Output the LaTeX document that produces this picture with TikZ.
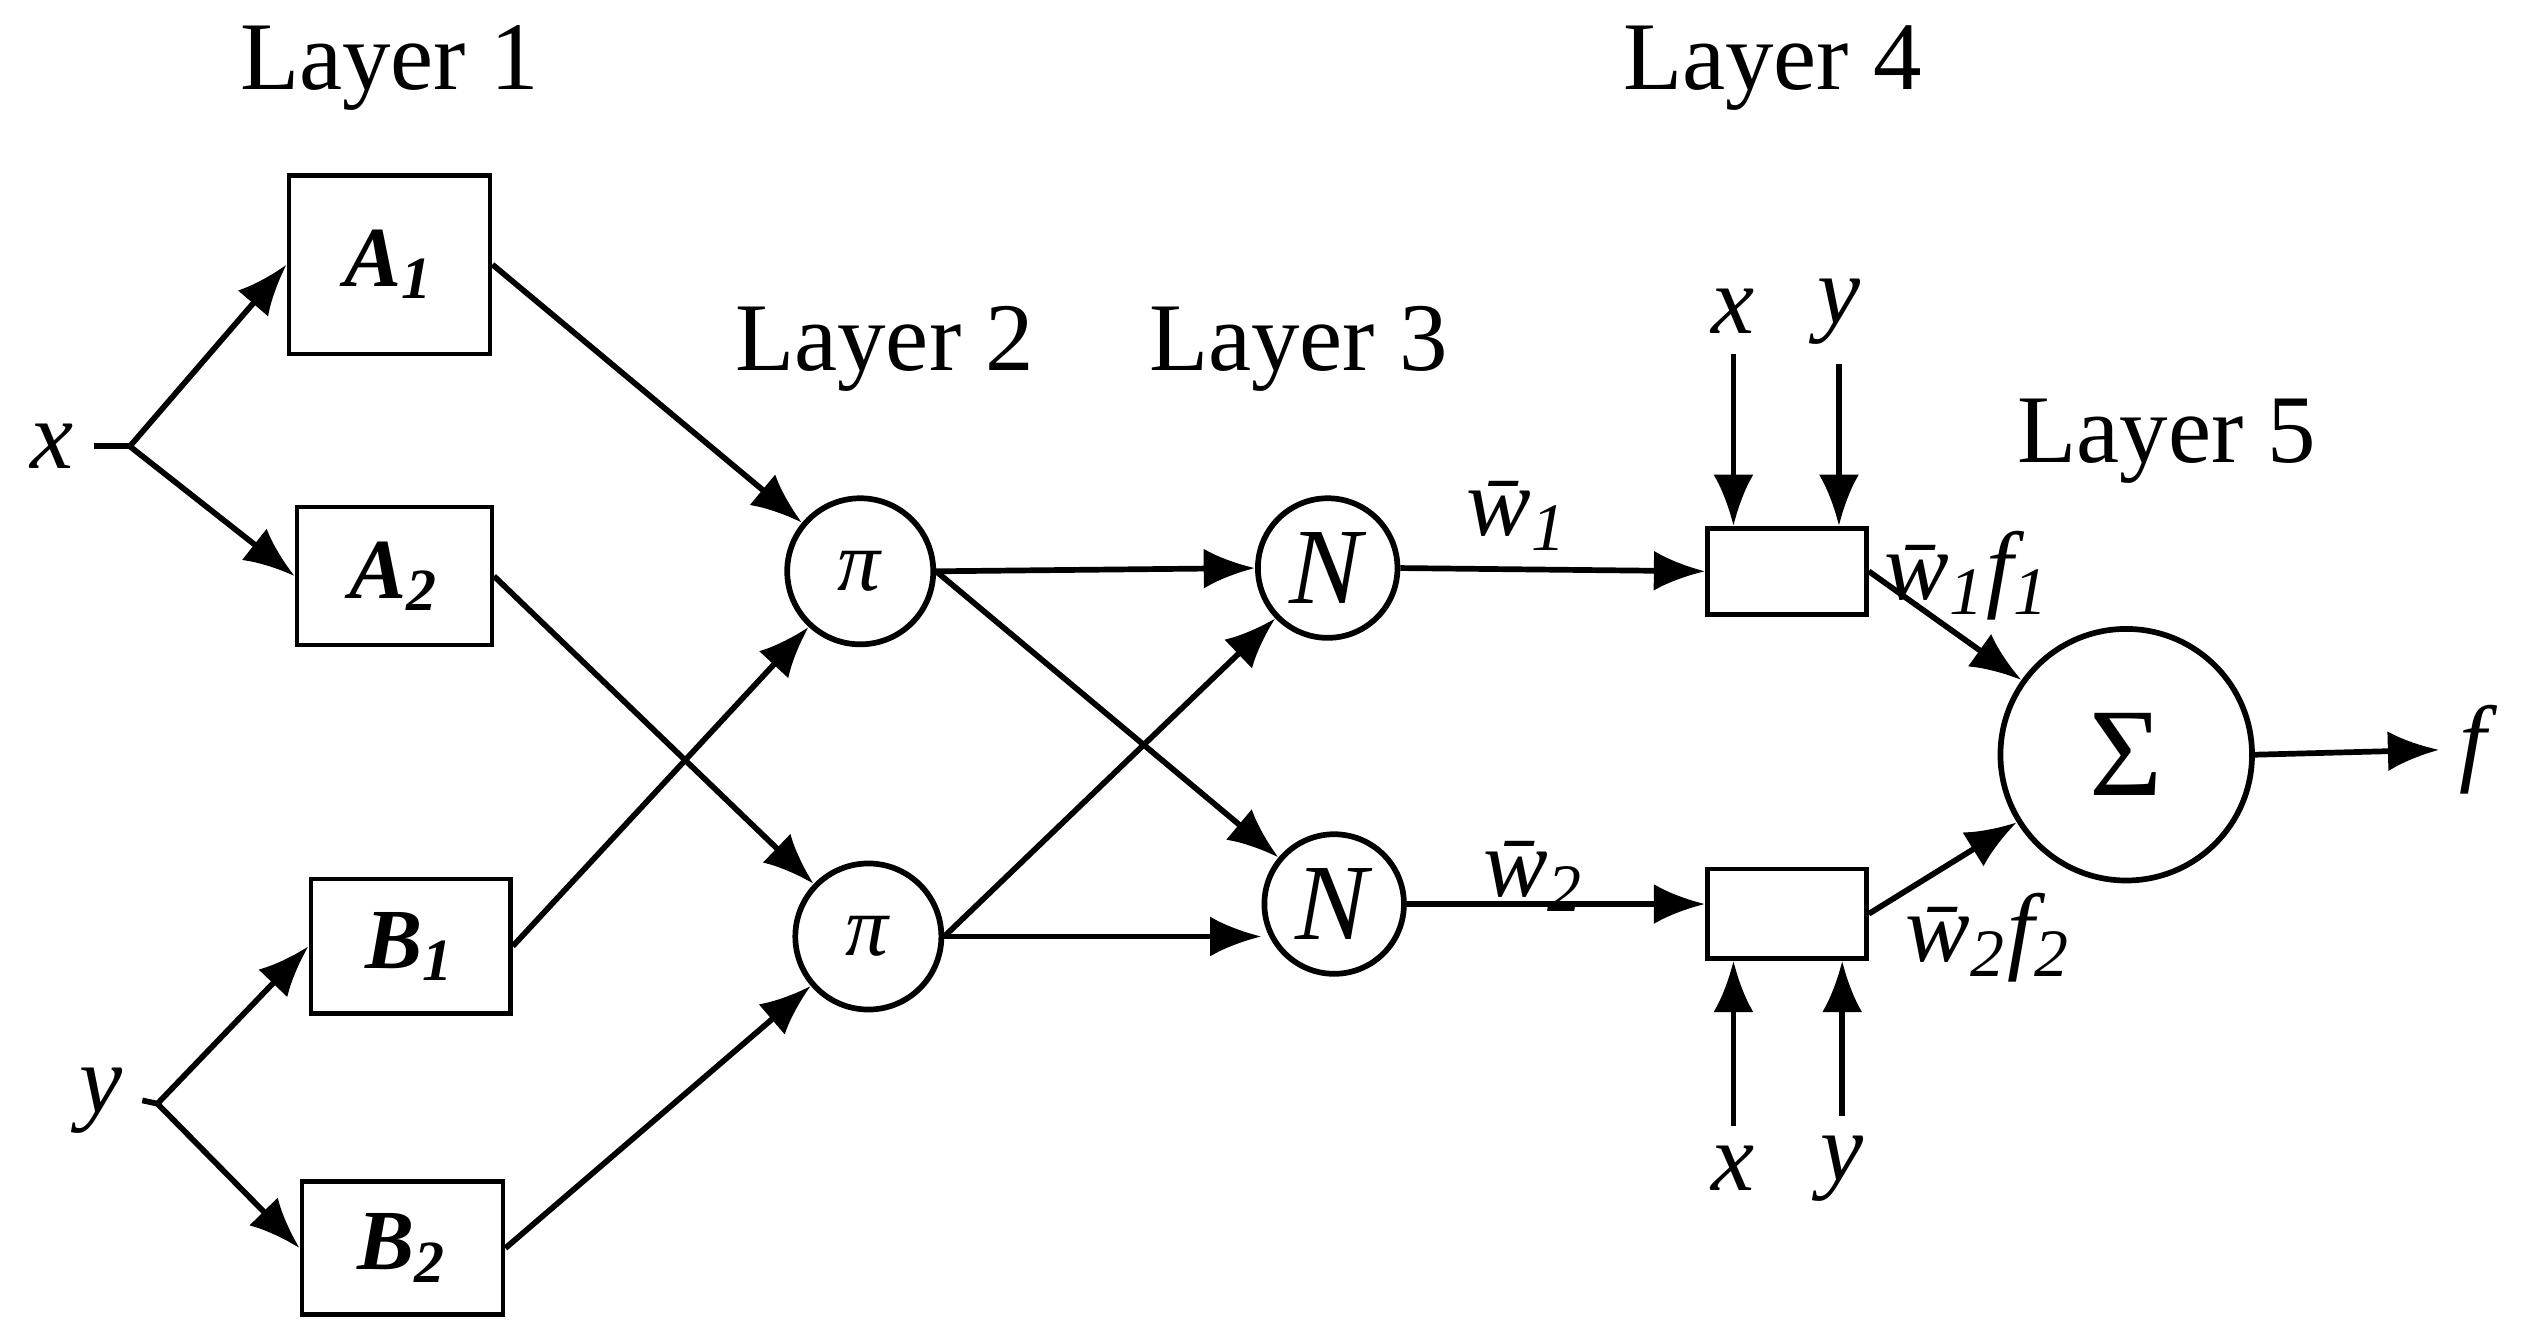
\documentclass[tikz,border=0pt]{standalone}
\usepackage{fontspec}
\setmainfont{Liberation Serif}
\usetikzlibrary{arrows.meta}
\begin{document}
\begin{tikzpicture}[x=0.1mm,y=-0.1mm,
  every node/.style={font=\fontsize{15}{18}\selectfont},
  box/.style={draw,line width=0.8pt,inner sep=0pt},
  circ/.style={draw,circle,line width=1pt,inner sep=0pt},
  lbl/.style={font=\fontsize{17}{20}\selectfont},
  arr/.style={line width=1pt,-{Latex[length=9pt,width=7pt]}},
  ln/.style={line width=1pt}]
\useasboundingbox (0,0) rectangle (1560,823);
\node[lbl] (L1) at (240,42) {Layer 1};
\node[lbl] (L2) at (545,215) {Layer 2};
\node[lbl] (L3) at (800,215) {Layer 3};
\node[lbl] (L4) at (1092,42) {Layer 4};
\node[lbl] (L5) at (1335,272) {Layer 5};
\node[box,minimum width=124\pgflinewidth,minimum width=12.4mm,minimum height=11mm] (A1) at (240,163) {\textbf{\textit{A}\textsubscript{\textit{1}}}};
\node[box,minimum width=12mm,minimum height=8.5mm] (A2) at (243,355) {\textbf{\textit{A}\textsubscript{\textit{2}}}};
\node[box,minimum width=12.3mm,minimum height=8.3mm] (B1) at (253,583) {\textbf{\textit{B}\textsubscript{\textit{1}}}};
\node[box,minimum width=12.4mm,minimum height=8.2mm] (B2) at (248,769) {\textbf{\textit{B}\textsubscript{\textit{2}}}};
\node[lbl] (x) at (32,275) {\textit{x}};
\node[lbl] (y) at (62,678) {\textit{y}};
\coordinate (bx) at (80,275);
\coordinate (by) at (97,680);
\node[circ,minimum size=9mm] (P1) at (530,352) {\textit{π}};
\node[circ,minimum size=9mm] (P2) at (535,577) {\textit{π}};
\node[circ,minimum size=8.6mm] (N1) at (818,350) {\fontsize{19}{20}\selectfont\textit{N}};
\node[circ,minimum size=8.6mm] (N2) at (822,557) {\fontsize{19}{20}\selectfont\textit{N}};
\node[box,minimum width=9.8mm,minimum height=5.3mm] (R1) at (1101,352) {};
\node[box,minimum width=9.8mm,minimum height=5.5mm] (R2) at (1101,563) {};
\node[circ,minimum size=15.5mm] (S) at (1310,465) {\fontsize{22}{24}\selectfont Σ};
\node[lbl] (f) at (1527,462) {\textit{f}};
\node[lbl] (x1) at (1068,192) {\textit{x}};
\node[lbl] (y1) at (1133,192) {\textit{y}};
\node[lbl] (x2) at (1068,720) {\textit{x}};
\node[lbl] (y2) at (1135,720) {\textit{y}};
\node[lbl] (w1) at (935,318) {\textit{\=w\textsubscript{1}}};
\node[lbl] (w2) at (945,540) {\textit{\=w\textsubscript{2}}};
\node[lbl] (w1f) at (1212,355) {\textit{\=w\textsubscript{1}f\textsubscript{1}}};
\node[lbl] (w2f) at (1225,578) {\textit{\=w\textsubscript{2}f\textsubscript{2}}};
\draw[ln] (x.east) -- (bx);
\draw[arr] (bx) -- (A1.west);
\draw[arr] (bx) -- (A2.west);
\draw[ln] (y.east) -- (by);
\draw[arr] (by) -- (B1.west);
\draw[arr] (by) -- (B2.west);
\draw[arr] (A1.east) -- (P1);
\draw[arr] (A2.east) -- (P2);
\draw[arr] (B1.east) -- (P1);
\draw[arr] (B2.east) -- (P2);
\draw[arr] (P1.east) -- (N1.west);
\draw[arr] (P1.east) -- (N2);
\draw[arr] (P2.east) -- (N1);
\draw[arr] (P2.east) -- (N2.west |- P2.east);
\draw[arr] (N1.east) -- (R1.west);
\draw[arr] (N2.east) -- (R2.west |- N2.east);
\draw[arr] (R1.east) -- (S);
\draw[arr] (R2.east) -- (S);
\draw[arr] (S.east) -- (f.west);
\draw[arr] (x1.south) -- (x1.south |- R1.north);
\draw[arr] (y1.south) -- (y1.south |- R1.north);
\draw[arr] (x2.north) -- (x2.north |- R2.south);
\draw[arr] (y2.north) -- (y2.north |- R2.south);
\end{tikzpicture}
\end{document}
